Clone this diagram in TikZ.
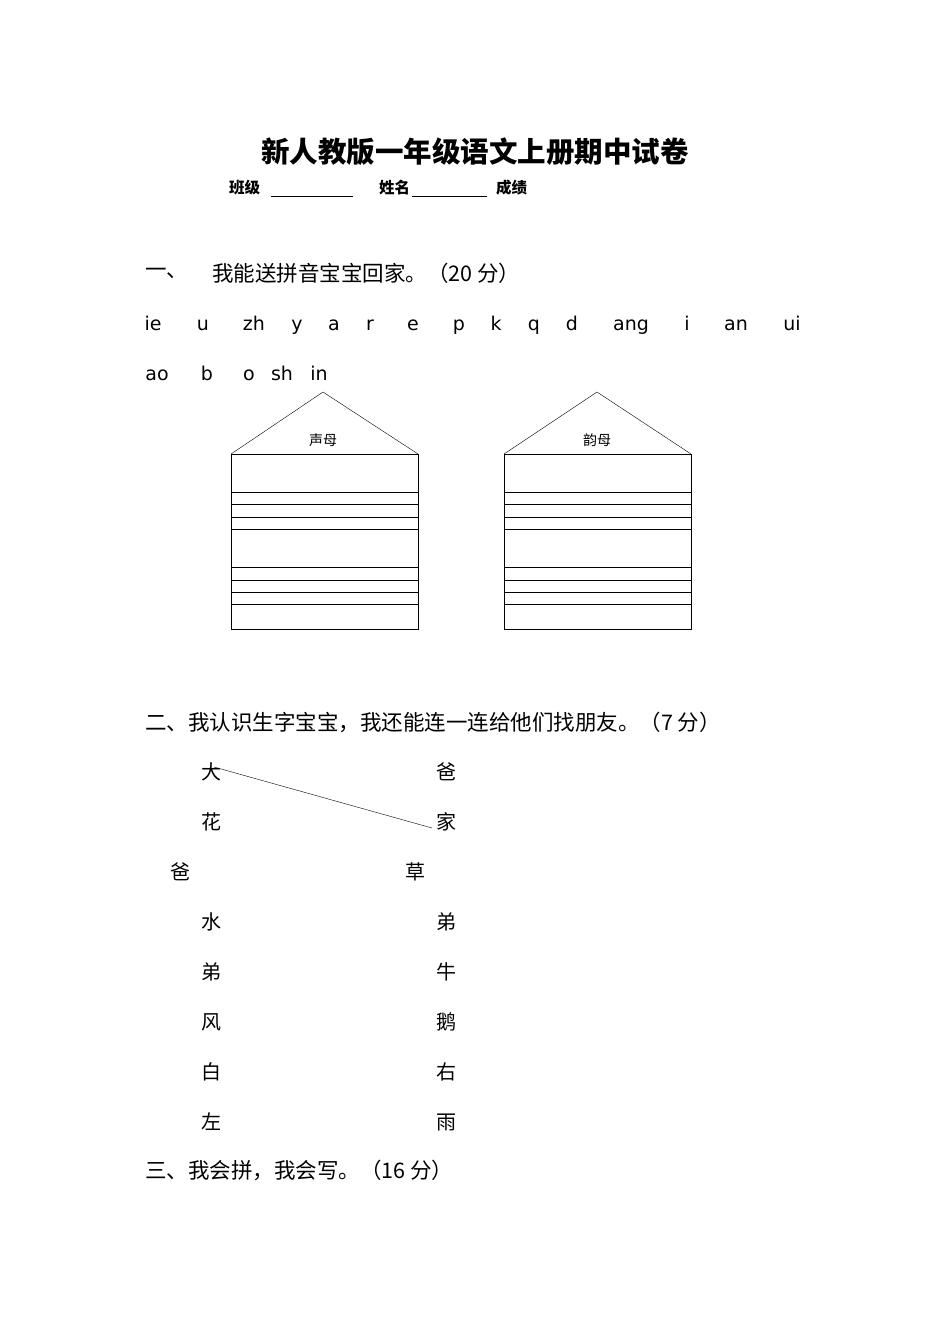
\documentclass[tikz,border=0pt]{standalone}
\usepackage{fontspec}
\newfontfamily\cjk{Noto Sans CJK SC}
\newfontfamily\lat{DejaVu Sans}
\begin{document}
\begin{tikzpicture}[x=1pt,y=-1pt,
  body/.style={font=\cjk\fontsize{21.5}{21.5}\selectfont,inner sep=0pt},
  py/.style={font=\lat\fontsize{19}{19}\selectfont,inner sep=0pt},
  ch/.style={font=\cjk\fontsize{20}{20}\selectfont,inner sep=0pt},
  hd/.style={font=\cjk\bfseries\fontsize{15.5}{15.5}\selectfont,inner sep=0pt,anchor=west},
  lbl/.style={font=\cjk\fontsize{14}{14}\selectfont,inner sep=0pt}]
\useasboundingbox[fill=white] (0,0) rectangle (950,1344);
\node[font=\cjk\bfseries\fontsize{28.5}{28.5}\selectfont,inner sep=0pt] (title) at (475,152) {新人教版一年级语文上册期中试卷};
\node[hd] (h1) at (229,188) {班级};
\draw (271,196) -- (353,196);
\node[hd] (h2) at (379,188) {姓名};
\draw (412,196) -- (487,196);
\node[hd] (h3) at (496,188) {成绩};
\node[body,anchor=west] (s1a) at (145,273) {一、};
\node[body,anchor=west] (s1) at (212,273) {我能送拼音宝宝回家。（20 分）};
\foreach \t/\x [count=\i] in {ie/153,u/203,zh/254,y/297,a/334,r/370,e/413,p/459,k/496,q/534,d/572,ang/631,i/687,an/736,ui/792}
  \node[py,anchor=base] (p\i) at (\x,330) {\t};
\foreach \t/\x [count=\i] in {ao/157,b/207,o/249,sh/282,in/319}
  \node[py,anchor=base] (q\i) at (\x,380) {\t};
\foreach \L/\cx/\name in {231/323/声母,504/597/韵母}{
  \draw (\L,454) -- (\cx,392) -- (\L+187,454);
  \draw (\L,454) rectangle (\L+187,629);
  \foreach \yy in {492,504,517,529,567,580,592,604} \draw (\L,\yy) -- (\L+187,\yy);
  \node[lbl] at (\cx,440) {\name};
}
\node[body,anchor=west] (s2) at (145,722) {二、我认识生字宝宝，我还能连一连给他们找朋友。（7 分）};
\foreach \a/\b/\xa/\xb [count=\i] in {大/爸/211/446,花/家/211/446,爸/草/180/415,水/弟/211/446,弟/牛/211/446,风/鹅/211/446,白/右/211/446,左/雨/211/446}{
  \node[ch] (l\i) at (\xa,722+50*\i) {\a};
  \node[ch] (r\i) at (\xb,722+50*\i) {\b};
}
\draw ([xshift=3pt,yshift=5pt]l1.center) -- ([xshift=-14pt,yshift=-6pt]r2.center);
\node[body,anchor=west] (s3) at (145,1170) {三、我会拼，我会写。（16 分）};
\end{tikzpicture}
\end{document}
